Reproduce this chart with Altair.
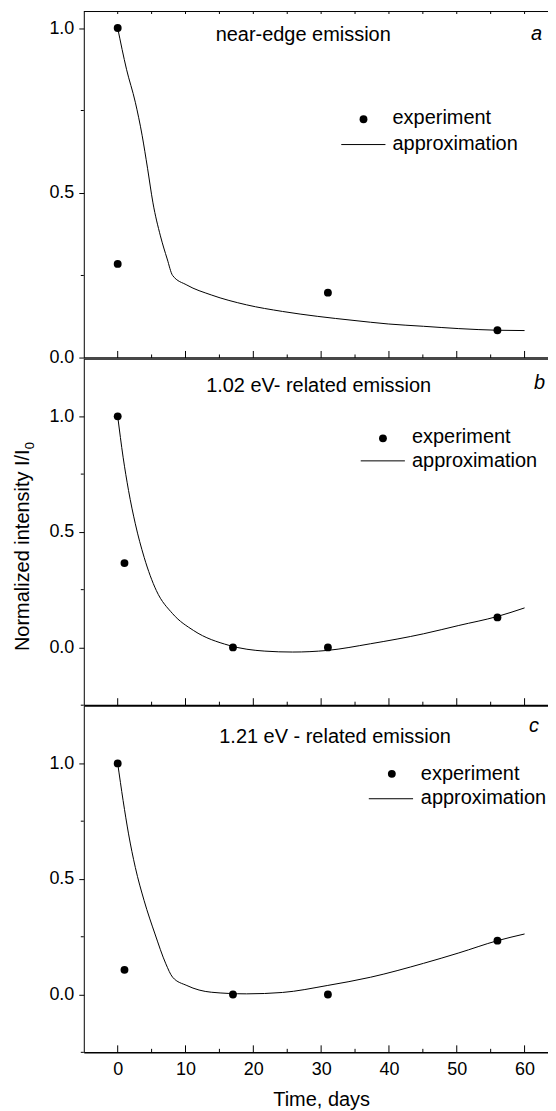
import altair as alt
import pandas as pd

FONT = "Liberation Sans"

# ---------------- data ----------------
x_domain = [-5, 65]
x_major = [0, 10, 20, 30, 40, 50, 60]
x_minor = [5, 15, 25, 35, 45, 55]
y_labels = [0.0, 0.5, 1.0]

titles = ["near-edge emission", "1.02 eV- related emission", "1.21 eV - related emission"]
letters = ["a", "b", "c"]
legend_labels = ["experiment", "approximation"]
y_title = "Normalized intensity I/I"
y_title_sub = "0"
x_title = "Time, days"

# panel a
a_exp_t = [0, 0, 31, 56]
a_exp_i = [1.0, 0.285, 0.198, 0.084]
a_fit_t = [0, 1.3, 2.6, 3.6, 4.4, 5.2, 6.3, 7.3, 8.1, 10.2, 13.8, 19.0, 24.3, 29.5, 34.7, 39.9, 45.1, 50.3, 56, 60]
a_fit_i = [1.0, 0.875, 0.775, 0.675, 0.575, 0.47, 0.37, 0.3, 0.25, 0.221, 0.191, 0.161, 0.141, 0.126, 0.114, 0.103, 0.096, 0.089, 0.084, 0.083]

# panel b
b_exp_t = [0, 1, 17, 31, 56]
b_exp_i = [1.0, 0.365, 0.0, 0.0, 0.13]
b_fit_t = [0, 0.8, 1.6, 2.6, 3.9, 5.7, 8.1, 11.2, 16.4, 21.7, 25.8, 30.9, 37.3, 45.1, 50.3, 56, 60]
b_fit_i = [1.0, 0.823, 0.679, 0.535, 0.39, 0.246, 0.146, 0.073, 0.009, -0.016, -0.02, -0.013, 0.016, 0.059, 0.095, 0.134, 0.171]

# panel c
c_exp_t = [0, 1, 17, 31, 56]
c_exp_i = [1.0, 0.107, 0.0, 0.0, 0.233]
c_fit_t = [0, 0.8, 1.6, 2.6, 3.9, 5.5, 7.1, 8.1, 10.2, 13.8, 19.0, 24.3, 30.9, 37.3, 45.1, 50.3, 56, 60]
c_fit_i = [1.0, 0.839, 0.695, 0.55, 0.406, 0.262, 0.133, 0.075, 0.039, 0.010, 0.003, 0.009, 0.039, 0.075, 0.135, 0.18, 0.233, 0.262]

# ---------------- layout ----------------
PX_PER_DAY = 6.8
W = (x_domain[1] - x_domain[0]) * PX_PER_DAY
one = pd.DataFrame({"k": [0]})


def txt(s, x, y, size=20, align="center", italic=False, angle=None):
    kw = dict(text=s, font=FONT, fontSize=size, align=align, baseline="alphabetic",
              color="black", fontStyle="italic" if italic else "normal")
    if angle is not None:
        kw["angle"] = angle
    return alt.Chart(one).mark_text(**kw).encode(x=alt.value(x), y=alt.value(y))


def make_panel(exp_t, exp_i, fit_t, fit_i, ydom, yminor, H, xaxis, geo, top_border=False, extra=()):
    xs = alt.Scale(domain=x_domain, nice=False, zero=False)
    ys = alt.Scale(domain=ydom, nice=False, zero=False)
    yaxis = alt.Axis(values=y_labels, format=".1f", tickSize=5, tickColor="black", tickWidth=1,
                     domainColor="black", domainWidth=1, labelColor="black", labelFont=FONT,
                     labelFontSize=18, labelPadding=5, title=None, grid=False)

    def X(f):
        return alt.X(f, type="quantitative", scale=xs, axis=xaxis)

    def Y(f):
        return alt.Y(f, type="quantitative", scale=ys, axis=yaxis)

    exp_df = pd.DataFrame({"t": exp_t, "i": exp_i})
    fit_df = pd.DataFrame({"t": fit_t, "i": fit_i})

    layers = []
    layers.append(alt.Chart(pd.DataFrame({"t": x_major})).mark_rule(color="black", strokeWidth=1)
                  .encode(x=X("t"), y=alt.value(H), y2=alt.value(H - 7)))
    layers.append(alt.Chart(pd.DataFrame({"t": x_minor})).mark_rule(color="black", strokeWidth=1)
                  .encode(x=X("t"), y=alt.value(H), y2=alt.value(H - 3.5)))
    layers.append(alt.Chart(pd.DataFrame({"i": yminor})).mark_rule(color="black", strokeWidth=1)
                  .encode(y=Y("i"), x=alt.value(0), x2=alt.value(-3)))
    if top_border:
        layers.append(alt.Chart(one).mark_rule(color="black", strokeWidth=1)
                      .encode(x=alt.value(0), x2=alt.value(W), y=alt.value(0)))
        layers.append(alt.Chart(pd.DataFrame({"t": x_major + x_minor})).mark_rule(color="black", strokeWidth=1)
                      .encode(x=X("t"), y=alt.value(0), y2=alt.value(2.5)))
    layers.append(alt.Chart(fit_df).mark_line(color="black", strokeWidth=1, interpolate="monotone")
                  .encode(x=X("t"), y=Y("i")))
    layers.append(alt.Chart(exp_df).mark_circle(size=62, color="black", opacity=1)
                  .encode(x=X("t"), y=Y("i")))
    # titles
    layers.append(txt(geo["title"], geo["tx"], geo["ty"]))
    layers.append(txt(geo["letter"], geo["lx"], geo["ly"], italic=True))
    # legend
    layers.append(alt.Chart(one).mark_circle(size=62, color="black", opacity=1)
                  .encode(x=alt.value(geo["dx"]), y=alt.value(geo["dy"])))
    layers.append(txt(legend_labels[0], geo["ex"], geo["ey"], align="left"))
    layers.append(alt.Chart(one).mark_rule(color="black", strokeWidth=1)
                  .encode(x=alt.value(geo["l1"]), x2=alt.value(geo["l2"]), y=alt.value(geo["ly2"])))
    layers.append(txt(legend_labels[1], geo["ex"], geo["ay"], align="left"))
    layers.extend(extra)
    return alt.layer(*layers).properties(width=W, height=H)


axis_a = alt.Axis(values=x_major, labels=False, ticks=False, tickSize=0, domain=True,
                  domainColor="#474747", domainWidth=3, grid=False, title=None)
axis_b = alt.Axis(values=x_major, labels=False, ticks=False, tickSize=0, domain=True,
                  domainColor="black", domainWidth=2, grid=False, title=None)
axis_c = alt.Axis(values=x_major, format="d", labels=True, labelFont=FONT, labelFontSize=18,
                  labelColor="black", labelPadding=22, labelBaseline="alphabetic",
                  labelFlush=False, labelOverlap=False,
                  ticks=False, tickSize=0, domain=True, domainColor="black", domainWidth=1.5,
                  grid=False, title=x_title, titleFont=FONT, titleFontSize=20,
                  titleFontWeight="normal", titleColor="black", titleX=238, titleY=53,
                  titleBaseline="alphabetic", titleAlign="center")

geo_a = dict(title=titles[0], tx=220, ty=29.2, letter=letters[0], lx=454, ly=29,
             dx=280.5, dy=108, ex=309.6, ey=112.4, l1=258.2, l2=302.5, ly2=133.4, ay=138.4)
geo_b = dict(title=titles[1], tx=235.5, ty=33.3, letter=letters[1], lx=457, ly=30.6,
             dx=300, dy=80, ex=329.1, ey=84.3, l1=277.7, l2=322, ly2=102.6, ay=108.3)
geo_c = dict(title=titles[2], tx=252, ty=37.4, letter=letters[2], lx=451.5, ly=26.4,
             dx=308.9, dy=68.4, ex=338, ey=75, l1=285.8, l2=330.2, ly2=93.4, ay=99)

ytitle_layers = [
    txt(y_title, -54.7, 293.3, size=20, align="left", angle=270),
    txt(y_title_sub, -49.7, 91, size=13, align="left", angle=270),
]

pa = make_panel(a_exp_t, a_exp_i, a_fit_t, a_fit_i, [0, 1.05], [0.25, 0.75], 347.4, axis_a, geo_a,
                top_border=True)
pb = make_panel(b_exp_t, b_exp_i, b_fit_t, b_fit_i, [-0.25, 1.25], [-0.25, 0.25, 0.75], 347.6, axis_b,
                geo_b, extra=ytitle_layers)
pc = make_panel(c_exp_t, c_exp_i, c_fit_t, c_fit_i, [-0.25, 1.25], [-0.25, 0.25, 0.75], 347.7, axis_c,
                geo_c)

chart = alt.vconcat(pa, pb, pc, spacing=0, bounds="flush").properties(
    padding={"left": 5, "top": 1, "right": -11.5, "bottom": 0}
).configure_view(stroke=None)

chart.save("out.html", embed_options={"renderer": "svg", "actions": False})
